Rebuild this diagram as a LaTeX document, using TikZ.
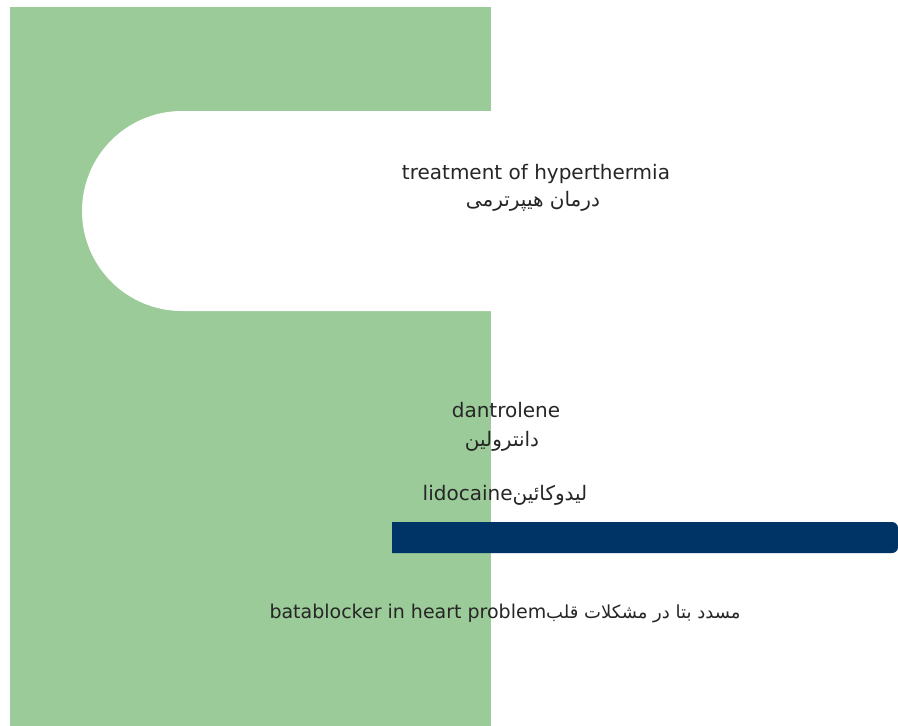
\documentclass[tikz,border=0pt]{standalone}
\usepackage{fontspec}
\setmainfont{DejaVu Sans}
\newfontfamily\arabicfont[Script=Arabic]{DejaVu Sans}
\TeXXeTstate=1
\definecolor{slidegreen}{RGB}{155,203,152}
\definecolor{slideblue}{RGB}{0,51,102}
\tikzset{
  txt/.style={anchor=base, inner sep=0pt, font=\fontsize{20}{23}\selectfont, text=black!85}
}
\begin{document}
\begin{tikzpicture}[x=1pt,y=-1pt]
\useasboundingbox (0,0) rectangle (898,726);
\fill[white] (0,0) rectangle (898,726);
% green panel
\fill[slidegreen] (10,7) rectangle (491,726);
% white stadium
\fill[white] (182,111) -- (560,111) -- (560,311) -- (182,311) arc[start angle=90, end angle=270, radius=100] -- cycle;
% blue bar
\fill[slideblue] (392,522) -- (892,522) arc[start angle=270, end angle=360, radius=6] -- (898,547) arc[start angle=0, end angle=90, radius=6] -- (392,553) -- cycle;
% texts
\node[txt] (t1) at (536,179) {treatment of hyperthermia};
\node[txt] (t1a) at (533,206) {\arabicfont\beginR درمان هیپرترمی\endR};
\node[txt] (t2) at (506,417) {dantrolene};
\node[txt] (t2a) at (502,446) {\arabicfont\beginR دانترولین\endR};
\node[txt] (t3) at (505,500) {lidocaine{\arabicfont\beginR لیدوکائین\endR}};
\node[txt, font=\fontsize{19}{22}\selectfont] (t4) at (505,618) {batablocker in heart problem{\arabicfont\fontsize{18}{22}\selectfont\beginR مسدد بتا در مشکلات قلب\endR}};
\end{tikzpicture}
\end{document}
